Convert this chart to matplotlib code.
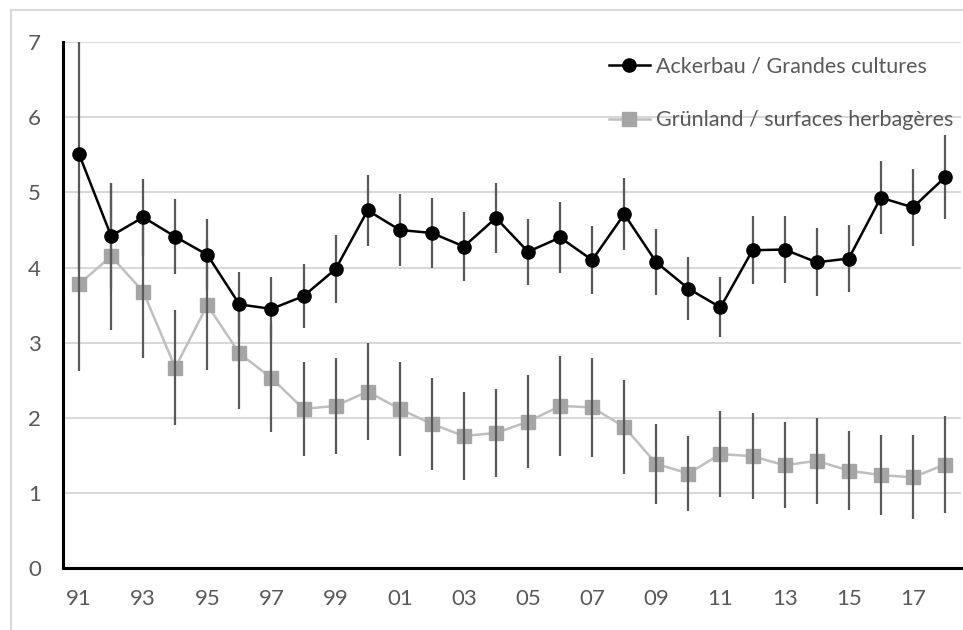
import matplotlib
matplotlib.use('Agg')
from matplotlib import pyplot as plt
from matplotlib.lines import Line2D

years = ['91', '92', '93', '94', '95', '96', '97', '98', '99', '00',
         '01', '02', '03', '04', '05', '06', '07', '08', '09', '10',
         '11', '12', '13', '14', '15', '16', '17', '18']

ackerbau = [5.51, 4.42, 4.67, 4.41, 4.17, 3.51, 3.45, 3.62, 3.98, 4.76,
            4.50, 4.46, 4.28, 4.66, 4.21, 4.40, 4.10, 4.71, 4.07, 3.72,
            3.47, 4.23, 4.24, 4.07, 4.12, 4.93, 4.80, 5.20]
ackerbau_err = [1.55, 0.70, 0.51, 0.50, 0.47, 0.43, 0.43, 0.43, 0.45, 0.47,
                0.48, 0.47, 0.46, 0.47, 0.44, 0.47, 0.45, 0.48, 0.44, 0.42,
                0.40, 0.45, 0.45, 0.45, 0.44, 0.49, 0.51, 0.56]

gruenland = [3.78, 4.15, 3.68, 2.67, 3.50, 2.86, 2.53, 2.12, 2.16, 2.35,
             2.12, 1.92, 1.76, 1.80, 1.95, 2.16, 2.14, 1.88, 1.39, 1.26,
             1.52, 1.49, 1.37, 1.43, 1.30, 1.24, 1.21, 1.38]
gruenland_err = [1.15, 0.98, 0.88, 0.76, 0.86, 0.74, 0.72, 0.63, 0.64, 0.65,
                 0.63, 0.61, 0.59, 0.58, 0.62, 0.66, 0.66, 0.62, 0.53, 0.50,
                 0.57, 0.57, 0.57, 0.57, 0.53, 0.53, 0.56, 0.64]

labels = ['Ackerbau / Grandes cultures', 'Grünland / surfaces herbagères']

plt.rcParams['font.family'] = ['Lato', 'DejaVu Sans']

W, H = 963, 630
fig = plt.figure(figsize=(W / 100, H / 100), dpi=100)
ax = fig.add_axes([63 / W, (H - 568.3) / H, (961 - 63) / W, (568.3 - 42) / H])

x = list(range(len(years)))
err_color = '#595959'

ax.errorbar(x, gruenland, yerr=gruenland_err, fmt='none', ecolor=err_color,
            elinewidth=1.6, capsize=0, zorder=4)
ax.plot(x, gruenland, color='#BFBFBF', lw=1.8, marker='s', ms=9.5,
        mfc='#A5A5A5', mec='#A5A5A5', zorder=3)

ax.errorbar(x, ackerbau, yerr=ackerbau_err, fmt='none', ecolor=err_color,
            elinewidth=1.6, capsize=0, zorder=5)
ax.plot(x, ackerbau, color='black', lw=1.8, marker='o', ms=9.5,
        mfc='black', mec='black', zorder=6)

ax.set_xlim(-0.5, len(years) - 0.5)
ax.set_ylim(0, 7)
ax.set_yticks(range(0, 8))
ax.set_xticks(x[::2])
ax.set_xticklabels(years[::2])
ax.tick_params(length=0, labelsize=16, labelcolor='#595959')
ax.tick_params(axis='y', pad=16)
ax.tick_params(axis='x', pad=15)
ax.grid(axis='y', color='#D9D9D9', lw=1.5)
ax.set_axisbelow(True)
for s in ('top', 'right'):
    ax.spines[s].set_visible(False)
for s in ('left', 'bottom'):
    ax.spines[s].set_linewidth(2.2)
    ax.spines[s].set_color('black')
    ax.spines[s].set_zorder(7)

handles = [
    Line2D([], [], color='black', lw=1.8, marker='o', ms=9.5),
    Line2D([], [], color='#BFBFBF', lw=1.8, marker='s', ms=9.5,
           mfc='#A5A5A5', mec='#A5A5A5'),
]
leg = fig.legend(handles, labels, loc='upper left',
                 bbox_to_anchor=(598 / W, 1 - 46 / H), frameon=False,
                 fontsize=15.5, handlelength=1.9, handletextpad=0.3,
                 labelspacing=1.55, borderpad=0)
for t in leg.get_texts():
    t.set_color('#595959')

# light outer frame around the chart area
fig.add_artist(Line2D([11 / W, 1], [1 - 10 / H, 1 - 10 / H], color='#D9D9D9', lw=1.5))
fig.add_artist(Line2D([11 / W, 11 / W], [0, 1 - 10 / H], color='#D9D9D9', lw=1.5))

fig.savefig('out.png', dpi=100)
